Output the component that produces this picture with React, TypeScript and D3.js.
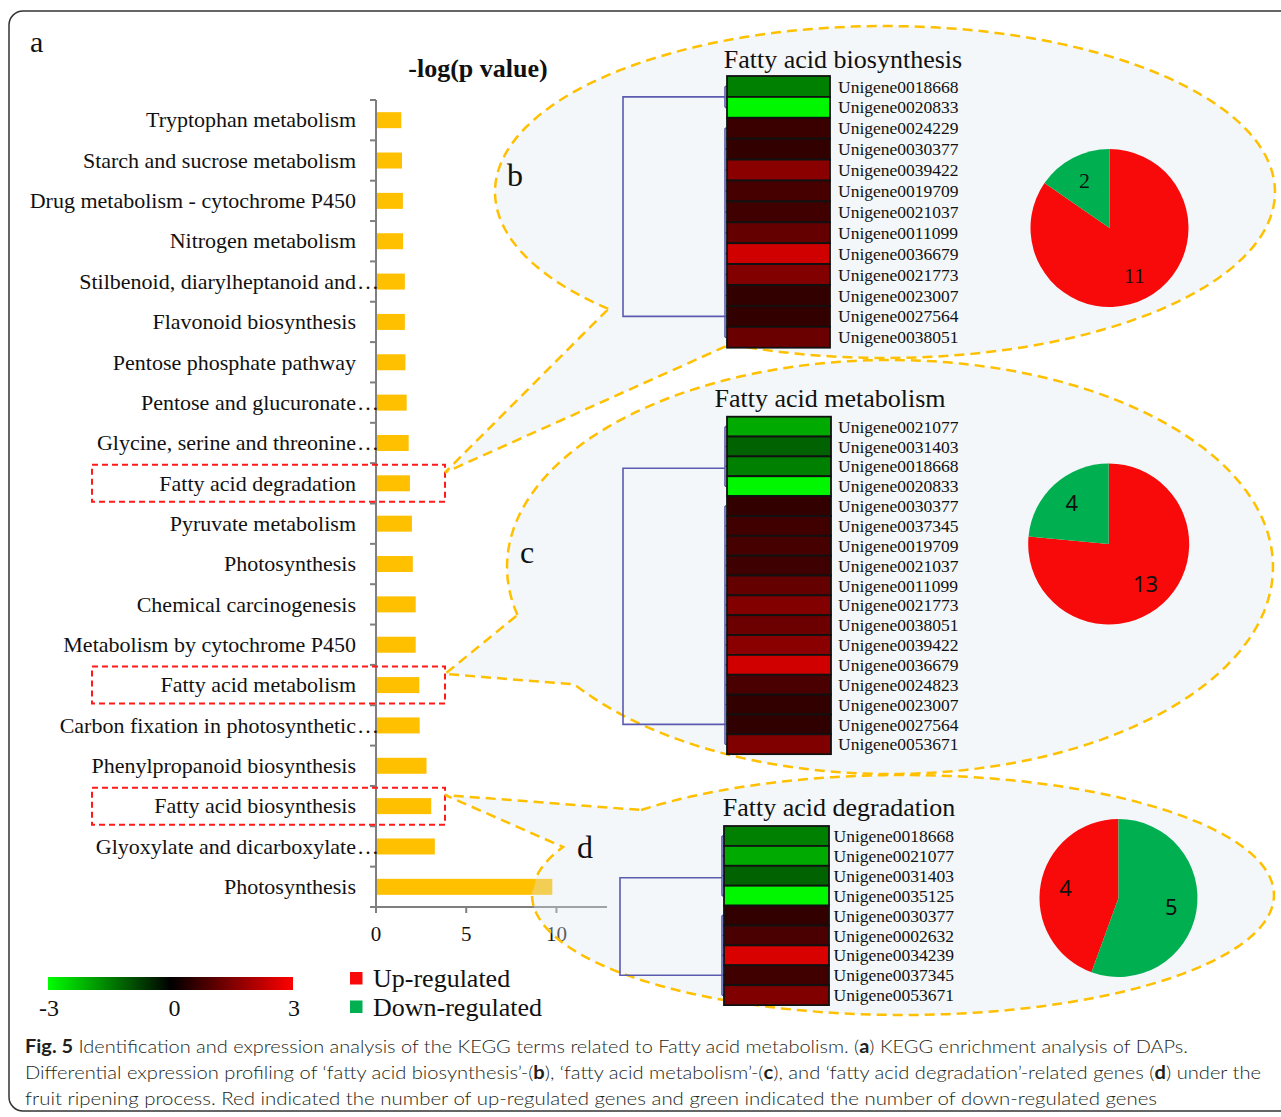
import React from 'react';
import * as d3 from 'd3';

// ---- panel a: KEGG enrichment ----
const categories = [
  'Tryptophan metabolism',
  'Starch and sucrose metabolism',
  'Drug metabolism - cytochrome P450',
  'Nitrogen metabolism',
  'Stilbenoid, diarylheptanoid and…',
  'Flavonoid biosynthesis',
  'Pentose phosphate pathway',
  'Pentose and glucuronate…',
  'Glycine, serine and threonine…',
  'Fatty acid degradation',
  'Pyruvate metabolism',
  'Photosynthesis',
  'Chemical carcinogenesis',
  'Metabolism by cytochrome P450',
  'Fatty acid metabolism',
  'Carbon fixation in photosynthetic…',
  'Phenylpropanoid biosynthesis',
  'Fatty acid biosynthesis',
  'Glyoxylate and dicarboxylate…',
  'Photosynthesis',
];
const logP = [1.4, 1.44, 1.49, 1.5, 1.6, 1.6, 1.63, 1.7, 1.81, 1.88, 1.99, 2.04, 2.2, 2.2, 2.4, 2.42, 2.8, 3.06, 3.26, 9.77];
const boxedTerms = ['Fatty acid degradation', 'Fatty acid metabolism', 'Fatty acid biosynthesis'];
const xTicks = [0, 5, 10];

// ---- panels b, c, d: heatmaps ----
const bioGenes = ['Unigene0018668', 'Unigene0020833', 'Unigene0024229', 'Unigene0030377', 'Unigene0039422', 'Unigene0019709', 'Unigene0021037', 'Unigene0011099', 'Unigene0036679', 'Unigene0021773', 'Unigene0023007', 'Unigene0027564', 'Unigene0038051'];
const bioValues = [-1.5, -2.9, 0.68, 0.6, 1.62, 0.83, 0.77, 1.19, 2.45, 1.53, 0.6, 0.6, 1.25];

const metGenes = ['Unigene0021077', 'Unigene0031403', 'Unigene0018668', 'Unigene0020833', 'Unigene0030377', 'Unigene0037345', 'Unigene0019709', 'Unigene0021037', 'Unigene0011099', 'Unigene0021773', 'Unigene0038051', 'Unigene0039422', 'Unigene0036679', 'Unigene0024823', 'Unigene0023007', 'Unigene0027564', 'Unigene0053671'];
const metValues = [-2.0, -1.15, -1.5, -2.9, 0.6, 0.77, 0.83, 0.73, 1.19, 1.53, 1.27, 1.62, 2.45, 0.87, 0.6, 0.57, 1.5];

const degGenes = ['Unigene0018668', 'Unigene0021077', 'Unigene0031403', 'Unigene0035125', 'Unigene0030377', 'Unigene0002632', 'Unigene0034239', 'Unigene0037345', 'Unigene0053671'];
const degValues = [-1.5, -2.0, -1.15, -2.9, 0.6, 0.87, 2.55, 0.77, 1.5];

// up / down regulated counts
const bioCounts = [11, 2];
const metCounts = [13, 4];
const degCounts = [4, 5];

const legendTicks = [-3, 0, 3];
const legendItems = ['Up-regulated', 'Down-regulated'];

const SERIF = '"Liberation Serif", "Times New Roman", serif';
const SANS = '"Noto Sans", "Liberation Sans", sans-serif';
const UP = '#f80a0a';
const DOWN = '#00b050';
const ORANGE = '#ffc000';
const AXIS = '#7f7f7f';
const DENDRO = '#5b5bb0';

const heatColor = d3.scaleLinear<string>().domain([-3, 0, 3]).range(['#00ff00', '#000000', '#ff0000']);

const panels = [
  {
    key: 'b', title: 'Fatty acid biosynthesis', genes: bioGenes, values: bioValues, counts: bioCounts,
    x: 727, w: 103, top: 76, rowH: 20.9, titleX: 843, titleY: 68, labelX: 838,
    split: 2, joins: [1.0, 11.5], pie: { cx: 1109.5, cy: 228, r: 79, font: SERIF },
    letter: { x: 507, y: 186 },
    callout: { cx: 885, cy: 192, rx: 390, ry: 166, lo: 113.4, hi: 135.2, tip: [445, 472.5] },
  },
  {
    key: 'c', title: 'Fatty acid metabolism', genes: metGenes, values: metValues, counts: metCounts,
    x: 727, w: 104, top: 416.7, rowH: 19.85, titleX: 830, titleY: 407, labelX: 838,
    split: 4, joins: [2.6, 15.5], pie: { cx: 1108.7, cy: 544, r: 80.5, font: SANS },
    letter: { x: 520, y: 563 },
    callout: { cx: 890, cy: 567, rx: 383, ry: 207, lo: 145.5, hi: 166.6, tip: [445, 674] },
  },
  {
    key: 'd', title: 'Fatty acid degradation', genes: degGenes, values: degValues, counts: degCounts,
    x: 724, w: 105, top: 826, rowH: 19.9, titleX: 839, titleY: 815.7, labelX: 833.5,
    split: 4, joins: [2.6, 7.5], pie: { cx: 1118.5, cy: 898, r: 79, font: SANS },
    letter: { x: 577, y: 858 },
    callout: { cx: 903, cy: 895, rx: 371, ry: 120, lo: 203.6, hi: 225.1, tip: [445, 795] },
  },
];

function calloutPath(c) {
  const pt = (a: number): [number, number] => {
    const r = (a * Math.PI) / 180;
    return [c.cx + c.rx * Math.cos(r), c.cy + c.ry * Math.sin(r)];
  };
  const pts: [number, number][] = [];
  for (let a = c.hi; a < c.lo + 360; a += 2) pts.push(pt(a));
  pts.push(pt(c.lo + 360));
  pts.push(c.tip);
  return d3.line()(pts) + 'Z';
}

function Heatmap({ p }) {
  const n = p.genes.length;
  const y = d3.scaleBand<number>().domain(d3.range(n)).range([p.top, p.top + p.rowH * n]);
  const yc = (i: number) => (y(i) as number) + y.bandwidth() / 2;
  const yj = (j: number) => p.top + p.rowH * j;
  const bx = p.x - 2;
  const mx = p.x - 104;
  const clusters = [d3.range(0, p.split), d3.range(p.split, n)];
  return (
    <g>
      <text x={p.titleX} y={p.titleY} textAnchor="middle" fontFamily={SERIF} fontSize={26} fill="#111">{p.title}</text>
      {/* dendrogram */}
      <g stroke={DENDRO} strokeWidth={1.6} fill="none">
        {clusters.map((rows, k) => (
          <g key={k}>
            <line x1={bx} x2={bx} y1={yc(rows[0])} y2={yc(rows[rows.length - 1])} />
            {rows.map((i) => <line key={i} x1={bx} x2={p.x} y1={yc(i)} y2={yc(i)} />)}
          </g>
        ))}
        <path d={`M${bx},${yj(p.joins[0])}H${mx}V${yj(p.joins[1])}H${bx}`} />
      </g>
      {p.values.map((v, i) => (
        <rect key={i} x={p.x} y={y(i)} width={p.w} height={y.bandwidth()} fill={heatColor(v)} stroke="#111" strokeWidth={1.8} />
      ))}
      {p.genes.map((g, i) => (
        <text key={i} x={p.labelX} y={yc(i)} dy="0.35em" fontFamily={SERIF} fontSize={17.5} fill="#111">{g}</text>
      ))}
    </g>
  );
}

function Pie({ p }) {
  const data = [
    { v: p.counts[0], color: UP },
    { v: p.counts[1], color: DOWN },
  ];
  const arcs = d3.pie<{ v: number; color: string }>().value((d) => d.v)(data);
  const arc = d3.arc<d3.PieArcDatum<{ v: number; color: string }>>().innerRadius(0).outerRadius(p.pie.r);
  const lab = d3.arc<d3.PieArcDatum<{ v: number; color: string }>>().innerRadius(p.pie.r * 0.68).outerRadius(p.pie.r * 0.68);
  return (
    <g transform={`translate(${p.pie.cx},${p.pie.cy})`}>
      {arcs.map((a, i) => <path key={i} d={arc(a) as string} fill={a.data.color} />)}
      {arcs.map((a, i) => {
        const [lx, ly] = lab.centroid(a);
        return (
          <text key={i} x={lx} y={ly} dy="0.35em" textAnchor="middle" fontFamily={p.pie.font} fontSize={22} fill="#111">{a.data.v}</text>
        );
      })}
    </g>
  );
}

export default function App() {
  const W = 1281;
  const H = 1117;
  const x = d3.scaleLinear().domain([0, 12.8]).range([376, 607]);
  const y = d3.scaleBand<number>().domain(d3.range(categories.length)).range([100, 907]);
  const yc = (i: number) => (y(i) as number) + y.bandwidth() / 2;
  const barH = 16;
  const labelX = x(0) - 20;
  const legend = d3.scaleLinear().domain([-3, 3]).range([48, 293]);

  return (
    <svg width={W} height={H} style={{ position: 'absolute', left: 0, top: 0, background: '#fff' }}>
      <defs>
        <linearGradient id="heatGrad" x1="0" x2="1" y1="0" y2="0">
          <stop offset="0%" stopColor="#00ff00" />
          <stop offset="50%" stopColor="#000000" />
          <stop offset="100%" stopColor="#ff0000" />
        </linearGradient>
      </defs>
      <rect x={9} y={11} width={1300} height={1100} rx={14} fill="none" stroke="#333" strokeWidth={1.5} />
      <text x={30} y={52} fontFamily={SERIF} fontSize={30} fill="#111">a</text>

      {/* bar chart */}
      <text x={478} y={77} textAnchor="middle" fontFamily={SERIF} fontWeight="bold" fontSize={26} fill="#111">-log(p value)</text>
      {logP.map((v, i) => (
        <rect key={i} x={x(0)} y={yc(i) - barH / 2} width={x(v) - x(0)} height={barH} fill={ORANGE} />
      ))}
      <g stroke={AXIS} strokeWidth={2}>
        <line x1={x(0)} x2={x(0)} y1={100} y2={907} />
        {d3.range(categories.length + 1).map((i) => {
          const yy = i < categories.length ? (y(i) as number) : 907;
          return <line key={i} x1={x(0) - 6} x2={x(0)} y1={yy} y2={yy} />;
        })}
        <line x1={x(0)} x2={607} y1={907} y2={907} />
        {xTicks.map((t) => <line key={t} x1={x(t)} x2={x(t)} y1={907} y2={913} />)}
      </g>
      {xTicks.map((t) => (
        <text key={t} x={x(t)} y={941} textAnchor="middle" fontFamily={SERIF} fontSize={21} fill="#111">{t}</text>
      ))}
      {categories.map((c, i) => {
        const cut = c.endsWith('…');
        return (
          <g key={i} fontFamily={SERIF} fontSize={22} fill="#111">
            <text x={labelX} y={yc(i)} dy="0.33em" textAnchor="end">{cut ? c.slice(0, -1) : c}</text>
            {cut && <text x={labelX + 1} y={yc(i)} dy="0.33em">{'…'}</text>}
          </g>
        );
      })}
      {categories.map((c, i) =>
        boxedTerms.includes(c) ? (
          <rect key={i} x={92} y={yc(i) - 18.5} width={353} height={37} fill="none" stroke="#ff1a1a" strokeWidth={2} strokeDasharray="6 4" />
        ) : null
      )}

      {/* callouts */}
      {panels.map((p) => (
        <path key={p.key} d={calloutPath(p.callout)} fill="#dde8f2" fillOpacity={0.35} stroke="none" />
      ))}
      {panels.map((p) => (
        <path key={p.key} d={calloutPath(p.callout)} fill="none" stroke={ORANGE} strokeWidth={2.5} strokeDasharray="10 6" />
      ))}
      {panels.map((p) => (
        <g key={p.key}>
          <text x={p.letter.x} y={p.letter.y} fontFamily={SERIF} fontSize={32} fill="#111">{p.key}</text>
          <Heatmap p={p} />
          <Pie p={p} />
        </g>
      ))}

      {/* legends */}
      <rect x={legend(-3)} y={977} width={legend(3) - legend(-3)} height={13} fill="url(#heatGrad)" />
      {legendTicks.map((t) => (
        <text key={t} x={legend(t) + (t === 0 ? 4 : 1)} y={1016} textAnchor="middle" fontFamily={SERIF} fontSize={24} fill="#111">{t}</text>
      ))}
      {legendItems.map((l, i) => (
        <g key={l}>
          <rect x={350} y={972 + i * 28.5} width={12.5} height={12.5} fill={i === 0 ? UP : DOWN} />
          <text x={373} y={987 + i * 29} fontFamily={SERIF} fontSize={26} fill="#111">{l}</text>
        </g>
      ))}

      {/* caption */}
      <g fontFamily='Lato, "Open Sans", sans-serif' fontSize={18} fontWeight={300} fill="#231f20">
        <text x={25} y={1053} textLength={1163} lengthAdjust="spacingAndGlyphs">
          <tspan fontWeight="bold">Fig. 5</tspan> Identification and expression analysis of the KEGG terms related to Fatty acid metabolism. (<tspan fontWeight="bold">a</tspan>) KEGG enrichment analysis of DAPs.
        </text>
        <text x={25} y={1079} textLength={1236} lengthAdjust="spacingAndGlyphs">
          Differential expression profiling of ‘fatty acid biosynthesis’-(<tspan fontWeight="bold">b</tspan>), ‘fatty acid metabolism’-(<tspan fontWeight="bold">c</tspan>), and ‘fatty acid degradation’-related genes (<tspan fontWeight="bold">d</tspan>) under the
        </text>
        <text x={25} y={1105} textLength={1132} lengthAdjust="spacingAndGlyphs">
          fruit ripening process. Red indicated the number of up-regulated genes and green indicated the number of down-regulated genes
        </text>
      </g>
    </svg>
  );
}
